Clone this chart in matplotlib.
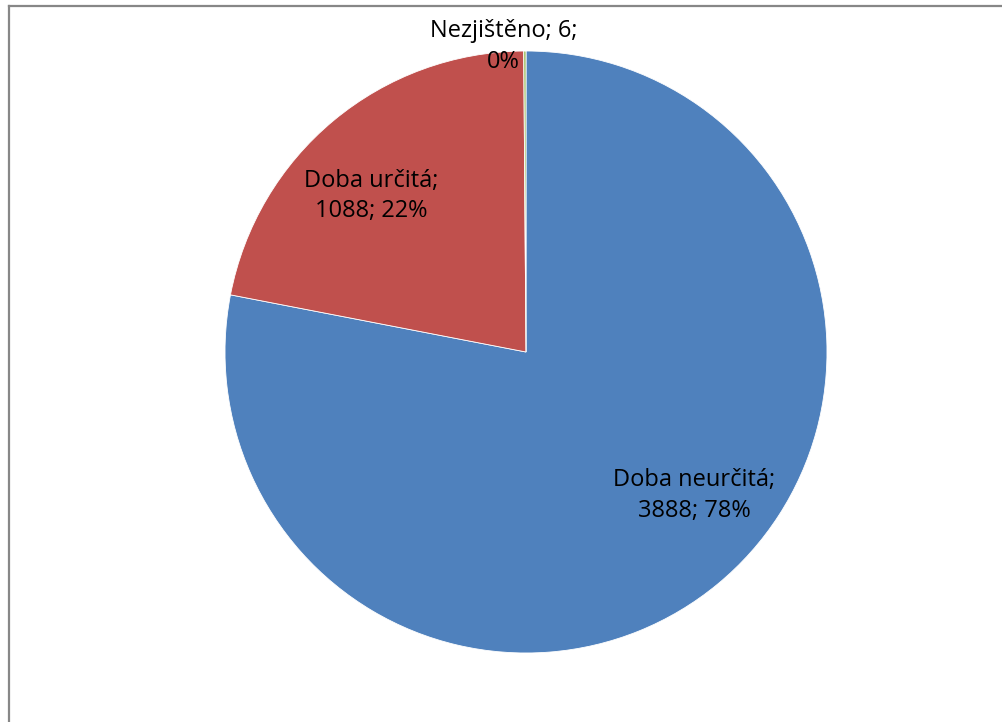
import numpy as np
import matplotlib.pyplot as plt
from matplotlib.lines import Line2D

labels = ["Doba neurčitá", "Doba určitá", "Nezjištěno"]
values = [3888, 1088, 6]
colors = ["#4F81BD", "#C0504D", "#9BBB59"]

plt.rcParams['font.family'] = ['Open Sans', 'DejaVu Sans']

W, H = 1002, 722
fig = plt.figure(figsize=(W / 100, H / 100), dpi=100)
cx, cy, r = 526, 352, 301
ax = fig.add_axes([(cx - r) / W, (H - cy - r) / H, 2 * r / W, 2 * r / H])

wedges, _ = ax.pie(values, colors=colors, startangle=90, counterclock=False,
                   radius=1, wedgeprops=dict(edgecolor='white', linewidth=0.6))
ax.set_xlim(-1, 1)
ax.set_ylim(-1, 1)
ax.set_aspect('equal')
ax.axis('off')

# label placement: (distance from centre, angle shift in degrees, x nudge)
place = [(0.735, 10, 0.0), (0.73, 5, 0.0), (1.015, 0, -0.07)]

total = sum(values)
for w, lab, v, (d, shift, nx) in zip(wedges, labels, values, place):
    pct = round(100 * v / total)
    ang = np.deg2rad((w.theta1 + w.theta2) / 2 + shift)
    if v / total < 0.02:
        txt = f"{lab}; {v};\n{pct}%"
        x, y = np.cos(ang) + nx, d
    else:
        txt = f"{lab};\n{v}; {pct}%"
        x, y = d * np.cos(ang) + nx, d * np.sin(ang)
    ax.text(x, y, txt, ha='center', va='center', fontsize=17, linespacing=1.38)

# chart frame (partly cut off)
fig.add_artist(Line2D([8.5 / W, 8.5 / W], [0, 1 - 6 / H], transform=fig.transFigure,
                      color='#878787', linewidth=1.6))
fig.add_artist(Line2D([8.5 / W, 1], [1 - 6 / H, 1 - 6 / H], transform=fig.transFigure,
                      color='#878787', linewidth=1.6))

fig.savefig("out.png", dpi=100)
